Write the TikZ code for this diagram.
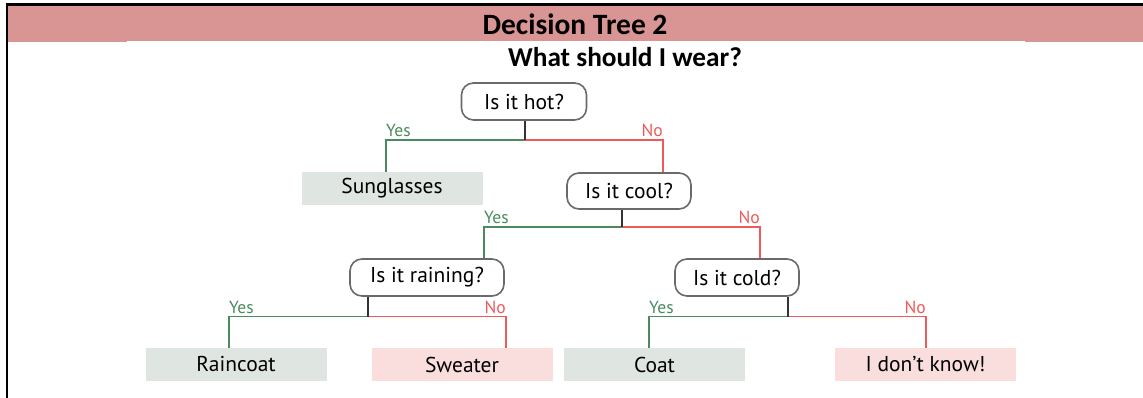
\documentclass[tikz,border=0pt]{standalone}
\usepackage{fontspec}
\setmainfont{PT Sans}
\newfontfamily\titlefont{Carlito}
\definecolor{bandpink}{HTML}{D99594}
\definecolor{yescol}{HTML}{4A8A5C}
\definecolor{nocol}{HTML}{EE5A5A}
\definecolor{leafgreen}{HTML}{DFE6E1}
\definecolor{leafpink}{HTML}{FADEDE}
\definecolor{qborder}{HTML}{6A6A6A}
\begin{document}
\begin{tikzpicture}[x=1pt,y=-1pt,
  qbox/.style={draw=qborder, line width=1.6pt, rounded corners=12pt, fill=white,
    inner sep=0pt, font=\fontsize{21.5}{24}\selectfont},
  leaf/.style={inner sep=0pt, minimum width=181pt, minimum height=33pt,
    font=\fontsize{21.5}{24}\selectfont},
  stem/.style={draw=black!80, line width=1.5pt},
  yesl/.style={draw=yescol, line width=1.5pt},
  nol/.style={draw=nocol, line width=1.5pt},
  lbl/.style={inner sep=0pt, font=\fontsize{17.5}{19}\selectfont},
  ttl/.style={inner sep=0pt, font=\titlefont\bfseries\fontsize{29.5}{32}\selectfont},
  sttl/.style={inner sep=0pt, font=\titlefont\bfseries\fontsize{27.3}{30}\selectfont}]
\useasboundingbox (0,0) rectangle (1143,398);
% band and frame
\fill[bandpink] (8,6) rectangle (1143,41);
\fill[bandpink] (8,41) rectangle (127,42);
\fill[bandpink] (1025,41) rectangle (1143,42);
\draw[line width=2.2pt] (7,398) -- (7,4.5) -- (1143,4.5);
\node[ttl] (title) at (575,24) {Decision Tree 2};
\node[sttl] (sub) at (625,57) {What should I wear?};
% questions
\node[qbox, minimum width=125pt, minimum height=37pt] (hot) at (524,101.5) {Is it hot?};
\node[qbox, minimum width=124pt, minimum height=36pt] (cool) at (629,191) {Is it cool?};
\node[qbox, minimum width=154pt, minimum height=37pt] (rain) at (427,277.5) {Is it raining?};
\node[qbox, minimum width=124pt, minimum height=37pt] (cold) at (737,277.5) {Is it cold?};
% leaves
\node[leaf, fill=leafgreen] (sun) at (392,188.5) {Sunglasses};
\node[leaf, fill=leafgreen] (raincoat) at (236,364.5) {Raincoat};
\node[leaf, fill=leafpink] (sweater) at (462,364.5) {Sweater};
\node[leaf, fill=leafgreen] (coat) at (654.5,364.5) {Coat};
\node[leaf, fill=leafpink] (idk) at (925.5,364.5) {I don’t know!};
% junctions
\coordinate (hotj) at (525,140);
\coordinate (hotY) at (386,140);
\coordinate (hotN) at (663,140);
\coordinate (coolj) at (622,227);
\coordinate (coolY) at (484,227);
\coordinate (coolN) at (760,227);
\coordinate (rainj) at (368,316.5);
\coordinate (rainY) at (229,316.5);
\coordinate (rainN) at (506,316.5);
\coordinate (coldj) at (788,316.5);
\coordinate (coldY) at (649,316.5);
\coordinate (coldN) at (926,316.5);
% hot
\draw[yesl] (hotj) -- (hotY) -- (hotY |- sun.north);
\draw[nol] (hotj) -- (hotN) -- (hotN |- cool.north);
\draw[stem] (hot.south -| hotj) -- (hotj);
% cool
\draw[yesl] (coolj) -- (coolY) -- (coolY |- rain.north);
\draw[nol] (coolj) -- (coolN) -- (coolN |- cold.north);
\draw[stem] (cool.south -| coolj) -- (coolj);
% rain
\draw[yesl] (rainj) -- (rainY) -- (rainY |- raincoat.north);
\draw[nol] (rainj) -- (rainN) -- (rainN |- sweater.north);
\draw[stem] (rain.south -| rainj) -- (rainj);
% cold
\draw[yesl] (coldj) -- (coldY) -- (coldY |- coat.north);
\draw[nol] (coldj) -- (coldN) -- (coldN |- idk.north);
\draw[stem] (cold.south -| coldj) -- (coldj);
% labels
\foreach \c in {hot,cool,rain,cold}{
  \node[lbl, text=yescol, anchor=base west, yshift=3.5pt] (\c yes) at (\c Y) {Yes};
  \node[lbl, text=nocol, anchor=base east, yshift=3.5pt] (\c no) at (\c N) {No};
}
\end{tikzpicture}
\end{document}
